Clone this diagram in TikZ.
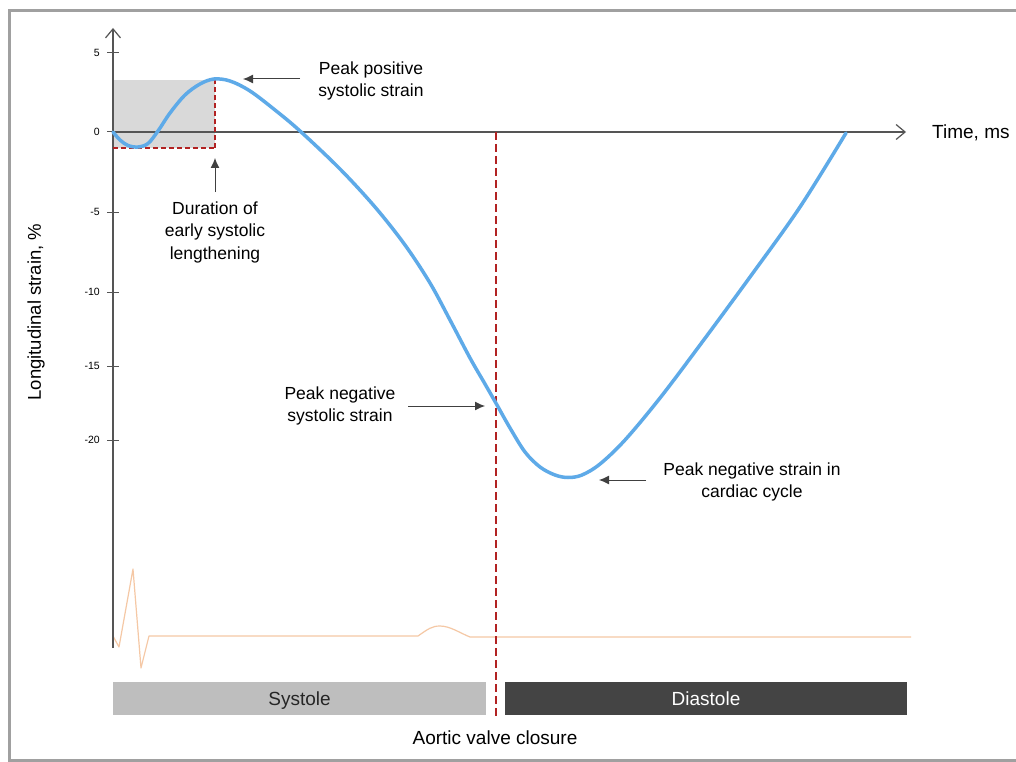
\documentclass[tikz,border=0pt]{standalone}
\usepackage{fontspec}
\setmainfont{Liberation Sans}
\usetikzlibrary{arrows.meta}
\definecolor{strainblue}{RGB}{94,170,232}
\definecolor{avcred}{RGB}{178,34,34}
\definecolor{ecgorange}{RGB}{245,200,165}
\definecolor{framegray}{RGB}{160,160,160}
\definecolor{axisgray}{RGB}{85,85,85}
\definecolor{sysgray}{RGB}{190,190,190}
\definecolor{diagray}{RGB}{68,68,68}
\definecolor{shadegray}{RGB}{217,217,217}
\begin{document}
\begin{tikzpicture}[x=1pt,y=-1pt,
  axisline/.style={draw=axisgray,line width=1.3pt,-{Straight Barb[length=9pt,width=15pt,line width=1.2pt]}},
  tickmark/.style={draw=axisgray,line width=1pt},
  ticklabel/.style={anchor=east,font=\fontsize{10.5}{12}\selectfont,inner sep=0pt},
  lbl/.style={align=center,font=\fontsize{17.5}{22.5}\selectfont,inner sep=0pt},
  pointer/.style={draw=black!75,line width=1pt,-{Latex[length=10pt,width=9pt]}},
  avcline/.style={draw=avcred,line width=1.6pt,dash pattern=on 8pt off 4pt},
  boxdash/.style={draw=avcred,line width=1.6pt,dash pattern=on 5pt off 3pt},
  phasebar/.style={inner sep=0pt,minimum height=33pt,text depth=0pt,font=\fontsize{19}{22}\selectfont}
]
\useasboundingbox (0,0) rectangle (1016,762);
\clip (0,0) rectangle (1016,762);
\fill[white] (0,0) rectangle (1016,762);
% frame
\draw[framegray,line width=3pt] (9.5,10.8) rectangle (1040,760.5);

% shaded early lengthening area
\fill[shadegray] (113,80) rectangle (215,148);

% ECG trace
\draw[ecgorange,line width=1.2pt,line join=round]
  (113,636) -- (119,647) -- (133,569) -- (141,668) -- (149,636) -- (418,636)
  .. controls (428,629) and (432,626) .. (440,626)
  .. controls (450,626) and (460,633) .. (470,637) -- (911,637);

% axes
\coordinate (origin) at (113,132);
\coordinate (ybottom) at (113,648);
\coordinate (ytop) at (113,28);
\coordinate (xend) at (906,132);
\draw[axisline] (ybottom) -- (ytop);
\draw[axisline] (origin) -- (xend);

% ticks
\foreach \v/\yy in {5/53,0/132,-5/212,-10/292,-15/366,-20/440}{
  \draw[tickmark] (107,\yy) -- (119,\yy);
  \node[ticklabel] (tick\v) at (100,\yy) {\v};
}

% dashed markers
\coordinate (peakpos) at (215,79);
\coordinate (boxcorner) at (215,148);
\coordinate (boxleft) at (113,148);
\draw[boxdash] (peakpos) -- (boxcorner);
\draw[boxdash] (boxleft) -- (boxcorner);
\coordinate (avctop) at (496,132);
\coordinate (avcbottom) at (496,716);
\draw[avcline] (avctop) -- (avcbottom);

% strain curve
\draw[strainblue,line width=3.5pt,line cap=round,line join=round]
  plot[smooth,tension=0.55] coordinates {
  (113,132) (120,140) (128,145.5) (138,147) (148,143.5) (158,131) (170,113)
  (185,95) (200,84) (214,79) (230,81) (250,91) (275,110) (300,131)
  (340,169) (375,207) (405,245) (430,283) (450,320) (470,358) (485,384)
  (497,405) (510,428) (525,452) (540,467) (555,475) (568,477.5) (582,475)
  (600,464) (625,440) (660,398) (700,345) (750,277) (800,207) (846,133)};

% phase bars
\node[phasebar,fill=sysgray,minimum width=373pt,text=black!85] (systole) at (299.5,698.5) {Systole};
\node[phasebar,fill=diagray,minimum width=402pt,text=white] (diastole) at (706,698.5) {Diastole};

% labels
\node[lbl] (pps) at (371,81) {Peak positive\\systolic strain};
\coordinate (ppstail) at (300,79);
\coordinate (ppstip) at (243,79);
\draw[pointer] (ppstail) -- (ppstip);

\node[lbl] (esl) at (215,232) {Duration of\\early systolic\\lengthening};
\coordinate (esltail) at (215,192);
\coordinate (esltip) at (215,158);
\draw[pointer] (esltail) -- (esltip);

\node[lbl] (pns) at (340,406) {Peak negative\\systolic strain};
\coordinate (pnstail) at (408,406);
\coordinate (pnstip) at (485,406);
\draw[pointer] (pnstail) -- (pnstip);

\node[lbl] (pnc) at (752,482) {Peak negative strain in\\cardiac cycle};
\coordinate (pnctail) at (646,480);
\coordinate (pnctip) at (599,480);
\draw[pointer] (pnctail) -- (pnctip);

\node[anchor=west,inner sep=0pt,font=\fontsize{19}{22}\selectfont] (time) at (932,133) {Time, ms};
\node[rotate=90,inner sep=0pt,font=\fontsize{18.5}{22}\selectfont] (ylab) at (36,312) {Longitudinal strain, \%};
\node[inner sep=0pt,font=\fontsize{19}{22}\selectfont] (avclab) at (495,738) {Aortic valve closure};
\end{tikzpicture}
\end{document}
